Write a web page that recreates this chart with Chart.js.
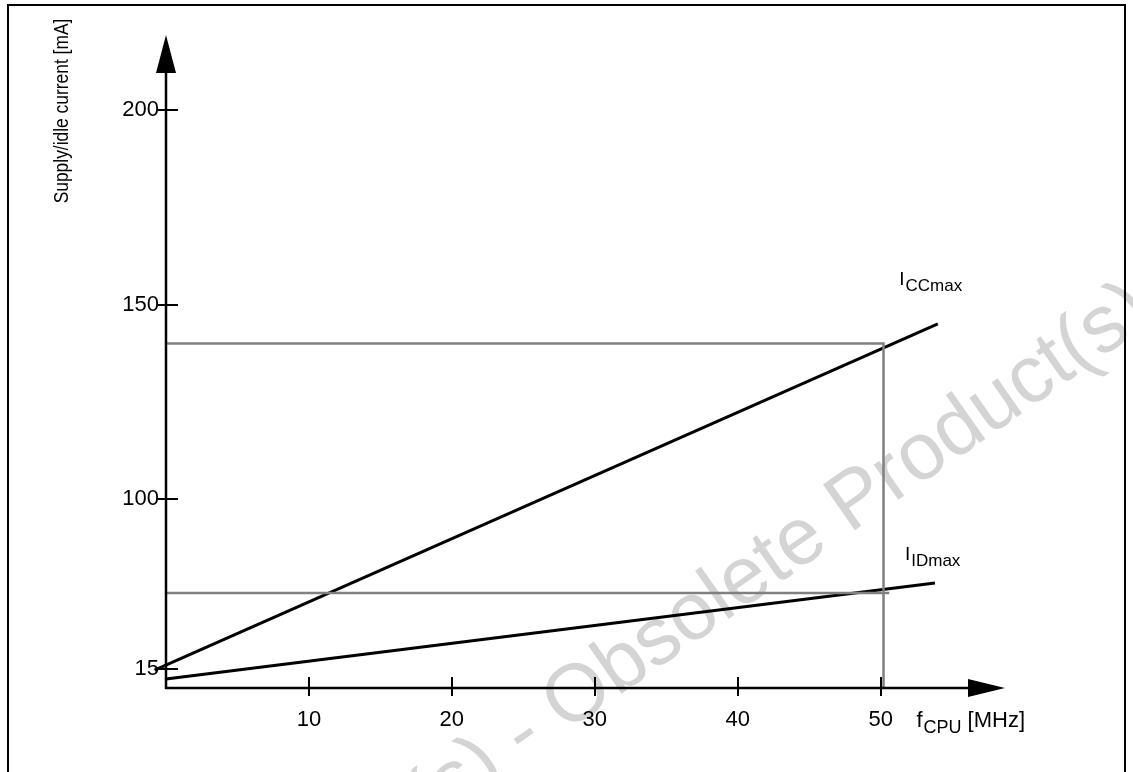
<!DOCTYPE html>
<html>
<head>
<meta charset="utf-8">
<script src="https://cdn.jsdelivr.net/npm/chart.js@4.4.0/dist/chart.umd.min.js"></script>
<style>
  html, body { margin: 0; padding: 0; background: #fff; }
</style>
</head>
<body>
<canvas id="myChart" width="1133" height="772"></canvas>
<script>
// tick positions on the axes
var freqTicks = [10, 20, 30, 40, 50];
var currentTicks = [56.3, 100, 150, 200];
var currentTickLabels = ['15', '100', '150', '200'];

// I_CCmax and I_IDmax curves (MHz, mA on the drawn scale)
var iccFreq = [-0.8, 54.0];
var iccMax = [56.0, 145.0];
var idFreq = [0, 53.8];
var idMax = [53.7, 78.4];

// grey reference lines at 50 MHz
var iccRefFreq = [0, 50.2, 50.2];
var iccRef = [140, 140, 51.4];
var idRefFreq = [0, 50.6];
var idRef = [75.8, 75.8];

var FONT = '"Liberation Sans", Arial, Helvetica, sans-serif';

function toPoints(xs, ys) {
  return xs.map(function(x, i) { return { x: x, y: ys[i] }; });
}

function drawSub(ctx, x, y, main, sub, rest, mainSize, subSize, shift) {
  ctx.textAlign = 'left';
  ctx.textBaseline = 'alphabetic';
  ctx.font = mainSize + 'px ' + FONT;
  ctx.fillText(main, x, y);
  x += ctx.measureText(main).width + 1;
  ctx.font = subSize + 'px ' + FONT;
  ctx.fillText(sub, x, y + shift);
  x += ctx.measureText(sub).width;
  if (rest) {
    ctx.font = mainSize + 'px ' + FONT;
    ctx.fillText(rest, x, y);
  }
}

var decor = {
  id: 'decor',
  beforeDraw: function(chart) {
    var ctx = chart.ctx;
    ctx.save();
    ctx.fillStyle = '#fff';
    ctx.fillRect(0, 0, chart.width, chart.height);

    // watermark
    ctx.font = '81px ' + FONT;
    ctx.fillStyle = '#d4d4d4';
    ctx.translate(521, 732);
    ctx.rotate(-35 * Math.PI / 180);
    var pre = 'Obsolete Product(s) ';
    var off = ctx.measureText(pre).width + ctx.measureText('-').width / 2;
    ctx.textBaseline = 'middle';
    ctx.fillText('Obsolete Product(s) - Obsolete Product(s)', -off, 4);
    ctx.restore();

    // frame
    ctx.save();
    ctx.strokeStyle = '#000';
    ctx.lineWidth = 2;
    ctx.strokeRect(8, 5, 1117, 790);
    ctx.restore();
  },
  afterDatasetsDraw: function(chart) {
    var ctx = chart.ctx;
    var a = chart.chartArea;
    var xs = chart.scales.x;
    var ys = chart.scales.y;
    ctx.save();
    ctx.strokeStyle = '#000';
    ctx.fillStyle = '#000';
    ctx.lineWidth = 2.5;

    // axes
    ctx.beginPath();
    ctx.moveTo(a.left, a.top + 20);
    ctx.lineTo(a.left, a.bottom);
    ctx.lineTo(a.right - 20, a.bottom);
    ctx.stroke();

    // arrow heads
    ctx.beginPath();
    ctx.moveTo(a.left, a.top);
    ctx.lineTo(a.left - 10, a.top + 38);
    ctx.lineTo(a.left + 10, a.top + 38);
    ctx.closePath();
    ctx.fill();
    ctx.beginPath();
    ctx.moveTo(a.right, a.bottom);
    ctx.lineTo(a.right - 37, a.bottom - 9);
    ctx.lineTo(a.right - 37, a.bottom + 9);
    ctx.closePath();
    ctx.fill();

    // tick marks crossing the axes
    ctx.lineWidth = 2;
    ctx.beginPath();
    freqTicks.forEach(function(v) {
      var px = Math.round(xs.getPixelForValue(v));
      ctx.moveTo(px, a.bottom - 11);
      ctx.lineTo(px, a.bottom + 8);
    });
    currentTicks.forEach(function(v) {
      var py = Math.round(ys.getPixelForValue(v));
      ctx.moveTo(a.left - 8, py);
      ctx.lineTo(a.left + 12, py);
    });
    ctx.stroke();

    // curve labels and axis titles
    drawSub(ctx, xs.getPixelForValue(51.3), ys.getPixelForValue(155.0), 'I', 'CCmax', '', 19, 17, 6);
    drawSub(ctx, xs.getPixelForValue(51.7), ys.getPixelForValue(84.3), 'I', 'IDmax', '', 19, 17, 6);
    drawSub(ctx, xs.getPixelForValue(52.5), a.bottom + 39, 'f', 'CPU', ' [MHz]', 22, 18, 6);

    ctx.translate(62, 111);
    ctx.rotate(-Math.PI / 2);
    ctx.scale(0.87, 1);
    ctx.font = '20px ' + FONT;
    ctx.textAlign = 'center';
    ctx.textBaseline = 'middle';
    ctx.fillText('Supply/idle current [mA]', 0, 0);
    ctx.restore();
  }
};

var ctx = document.getElementById('myChart').getContext('2d');
var myChart = new Chart(ctx, {
  type: 'line',
  data: {
    datasets: [{
      label: 'ICC ref',
      data: toPoints(iccRefFreq, iccRef),
      borderColor: '#808080',
      borderWidth: 2.5
    }, {
      label: 'ID ref',
      data: toPoints(idRefFreq, idRef),
      borderColor: '#808080',
      borderWidth: 2.5
    }, {
      label: 'ICCmax',
      data: toPoints(iccFreq, iccMax),
      borderColor: '#000',
      borderWidth: 3
    }, {
      label: 'IDmax',
      data: toPoints(idFreq, idMax),
      borderColor: '#000',
      borderWidth: 3
    }]
  },
  options: {
    responsive: false,
    animation: false,
    clip: false,
    elements: { point: { radius: 0 }, line: { tension: 0, borderCapStyle: 'butt' } },
    layout: { padding: { left: 0, right: 128, top: 35, bottom: 0 } },
    plugins: { legend: { display: false }, tooltip: { enabled: false } },
    scales: {
      x: {
        type: 'linear',
        min: 0,
        max: 58.7,
        border: { display: false },
        grid: { display: false, drawTicks: false },
        afterBuildTicks: function(s) {
          s.ticks = freqTicks.map(function(v) { return { value: v }; });
        },
        afterFit: function(s) { s.height = 772 - 688; },
        ticks: {
          padding: 19,
          color: '#000',
          font: { family: FONT, size: 22 },
          maxRotation: 0
        }
      },
      y: {
        type: 'linear',
        min: 51.4,
        max: 219.3,
        border: { display: false },
        grid: { display: false, drawTicks: false },
        afterBuildTicks: function(s) {
          s.ticks = currentTicks.map(function(v) { return { value: v }; });
        },
        afterFit: function(s) { s.width = 166; },
        ticks: {
          padding: 7,
          color: '#000',
          font: { family: FONT, size: 22 },
          callback: function(value, index) { return currentTickLabels[index]; }
        }
      }
    }
  },
  plugins: [decor]
});
</script>
</body>
</html>
